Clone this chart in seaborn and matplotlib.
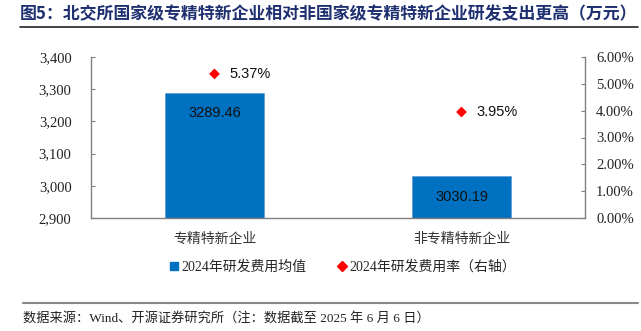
import matplotlib
matplotlib.use("Agg")
import matplotlib.pyplot as plt
import seaborn as sns
import pandas as pd
from matplotlib.lines import Line2D
from matplotlib.ticker import FuncFormatter, FixedLocator

categories = ["专精特新企业", "非专精特新企业"]
rd_mean = [3289.46, 3030.19]
rd_rate = [5.37, 3.95]
left_ticks = [2900, 3000, 3100, 3200, 3300, 3400]
right_ticks = [0, 1, 2, 3, 4, 5, 6]

title = "图5：北交所国家级专精特新企业相对非国家级专精特新企业研发支出更高（万元）"
source = "数据来源：Wind、开源证券研究所（注：数据截至 2025 年 6 月 6 日）"
legend_labels = ["2024年研发费用均值", "2024年研发费用率（右轴）"]

sns.set_theme(style="white")
plt.rcParams['font.family'] = ['Liberation Serif', 'Noto Sans CJK SC', 'DejaVu Sans']

W, H = 641, 331
fig = plt.figure(figsize=(W / 100, H / 100), dpi=100)
ax = fig.add_axes([91 / W, 1 - 218 / H, (585 - 91) / W, (218 - 57) / H])

df = pd.DataFrame({"cat": categories, "val": rd_mean, "rate": rd_rate})
sns.barplot(data=df, x="cat", y="val", color="#0070C0", width=0.40, ax=ax,
            saturation=1, edgecolor="#5B9BD5", linewidth=0.5)
ax.set_xlim(-0.5, 1.5)
ax.set_ylim(left_ticks[0], left_ticks[-1])
ax.yaxis.set_major_locator(FixedLocator(left_ticks))
ax.yaxis.set_major_formatter(FuncFormatter(lambda v, p: f"{v:,.0f}"))
ax.set_xlabel("")
ax.set_ylabel("")

ax2 = ax.twinx()
sns.scatterplot(x=[0, 1], y=rd_rate, ax=ax2, marker="D", color="#FF0000",
                s=30, edgecolor="none", zorder=5)
ax2.set_ylim(right_ticks[0], right_ticks[-1])
ax2.yaxis.set_major_locator(FixedLocator(right_ticks))
ax2.yaxis.set_major_formatter(FuncFormatter(lambda v, p: f"{v:.2f}%"))
ax2.set_xlim(-0.5, 1.5)

for a in (ax, ax2):
    for s in a.spines.values():
        s.set_visible(False)
ax.spines['left'].set_visible(True)
ax.spines['bottom'].set_visible(True)
ax2.spines['right'].set_visible(True)
for s in ['left', 'bottom']:
    ax.spines[s].set_color("#808080")
    ax.spines[s].set_linewidth(1.0)
ax2.spines['right'].set_color("#808080")
ax2.spines['right'].set_linewidth(1.0)

ax.tick_params(axis='y', direction='in', length=3, width=0.8, color="#808080",
               labelsize=10.5, pad=14, left=True, labelcolor="#222222")
ax.tick_params(axis='x', length=0, pad=10)
ax2.tick_params(axis='y', direction='in', length=3, width=0.8, color="#808080",
                labelsize=10.5, pad=8, right=True, labelcolor="#222222")
for lab in ax.get_xticklabels():
    lab.set_fontfamily(['Noto Sans CJK SC'])
    lab.set_fontsize(10)
    lab.set_color("#333333")

# bar value labels
for i, v in enumerate(rd_mean):
    ax.annotate(f"{v:.2f}", xy=(i, v), xytext=(0, -15), textcoords="offset points",
                ha="center", va="center", fontsize=10.5, color="#111111",
                fontfamily=['Liberation Sans'])
for i, r in enumerate(rd_rate):
    ax2.annotate(f"{r:.2f}%", xy=(i, r), xytext=(11, 0), textcoords="offset points",
                 ha="left", va="center", fontsize=10.5, color="#111111",
                 fontfamily=['Liberation Sans'])

handles = [
    Line2D([], [], marker="s", color="#0070C0", linestyle="none", markersize=6),
    Line2D([], [], marker="D", color="#FF0000", linestyle="none", markersize=5),
]
fig.legend(handles, legend_labels, loc="center", bbox_to_anchor=(342 / W, 1 - 267 / H),
           ncol=2, frameon=False, handletextpad=0.1, columnspacing=2.2,
           handlelength=0.8, prop={'family': ['Liberation Serif', 'Noto Sans CJK SC'], 'size': 10})

fig.text(20 / W, 1 - 14 / H, title, ha="left", va="center", fontsize=12.2,
         fontweight="bold", color="#1F3070", fontfamily=['Noto Sans CJK SC'])
fig.add_artist(Line2D([20 / W, 638 / W], [1 - 27 / H, 1 - 27 / H], color="#222222", lw=1.2))
fig.add_artist(Line2D([23 / W, 638 / W], [1 - 303 / H, 1 - 303 / H], color="#888888", lw=1.5))
fig.text(23 / W, 1 - 318 / H, source, ha="left", va="center", fontsize=9.5,
         color="#222222", fontfamily=['Liberation Serif', 'Noto Sans CJK SC'])

fig.savefig("out.png", dpi=100)
